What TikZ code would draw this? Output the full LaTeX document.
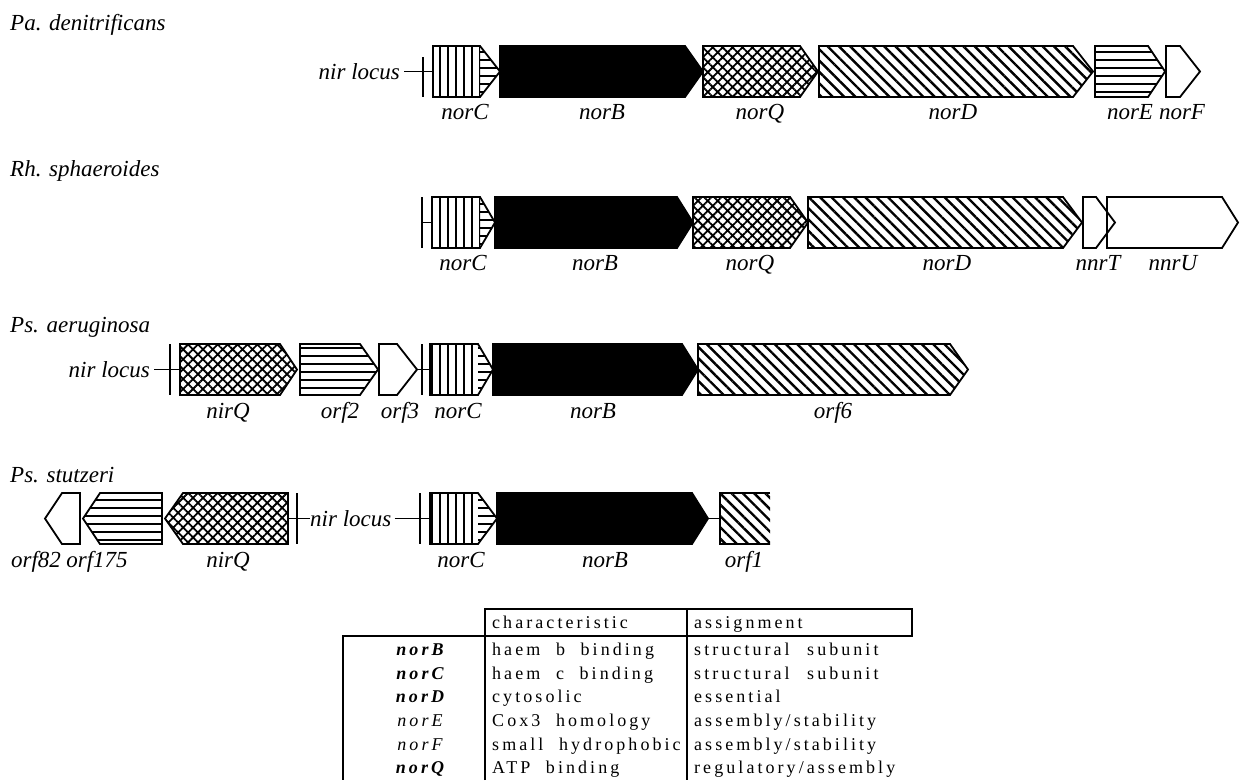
\documentclass[tikz,border=0pt]{standalone}
\usepackage{fontspec}
\newfontfamily\tabfont[LetterSpace=17]{Liberation Serif}
\newfontfamily\lblfont{Liberation Serif}
\usetikzlibrary{patterns.meta}

\tikzset{
  gene/.style={draw=black, line width=1.8pt, line join=miter},
  blk/.style={fill=black},
  xh/.style={pattern={Hatch[angle=45,distance=7pt,line width=1.8pt]}},
  dg/.style={pattern={Lines[angle=-45,distance=8pt,line width=2.4pt]}},
  hz/.style={pattern={Lines[angle=0,distance=8pt,line width=1.8pt]}},
  vt/.style={pattern={Lines[angle=90,distance=8pt,line width=1.8pt]}},
  wh/.style={fill=white},
  lbl/.style={font=\lblfont\fontsize{23}{25}\selectfont\itshape, inner sep=0pt, anchor=base},
  ttl/.style={lbl, anchor=base west},
  conn/.style={line width=1.6pt},
  bar/.style={line width=2pt},
  tab/.style={font=\tabfont\fontsize{18}{20}\selectfont, inner sep=0pt, anchor=base west},
  tabg/.style={font=\tabfont\fontsize{18}{20}\selectfont\itshape, inner sep=0pt, anchor=base},
  tline/.style={line width=1.8pt},
}

% right-pointing gene: name, x left, x body end, x tip, y top, fill style
\newcommand\generR[6]{%
  \draw[gene,#6] (#2,#5) -- (#3,#5) -- (#4,#5+25.5) -- (#3,#5+51) -- (#2,#5+51) -- cycle;
  \coordinate (#1-w) at (#2,#5+25.5);
  \coordinate (#1-e) at (#4,#5+25.5);}
% left-pointing gene: name, x tip, x body start, x right, y top, fill style
\newcommand\generL[6]{%
  \draw[gene,#6] (#2,#5+25.5) -- (#3,#5) -- (#4,#5) -- (#4,#5+51) -- (#3,#5+51) -- cycle;
  \coordinate (#1-w) at (#2,#5+25.5);
  \coordinate (#1-e) at (#4,#5+25.5);}
% norC: vertical stripes in body, horizontal stripes in tip
\newcommand\generC[5]{%
  \fill[vt] (#2,#5) rectangle (#3,#5+51);
  \fill[hz] (#3,#5) -- (#4,#5+25.5) -- (#3,#5+51) -- cycle;
  \draw[gene] (#2,#5) -- (#3,#5) -- (#4,#5+25.5) -- (#3,#5+51) -- (#2,#5+51) -- cycle;
  \coordinate (#1-w) at (#2,#5+25.5);
  \coordinate (#1-e) at (#4,#5+25.5);}
\newcommand\tsp{\hspace{0.45em}}

\begin{document}
\begin{tikzpicture}[x=1pt,y=-1pt]
\useasboundingbox (0,0) rectangle (1241,780);

% ---------- Row 1: Pa. denitrificans ----------
\node[ttl] (t1) at (10,30) {Pa. denitrificans};
\node[lbl, anchor=base east] (loc1) at (400,79.5) {nir locus};
\generC{c1}{433}{480}{500}{46}
\generR{b1}{500}{685}{703}{46}{blk}
\generR{q1}{703}{800}{818}{46}{xh}
\generR{d1}{819}{1073}{1093}{46}{dg}
\generR{e1}{1095}{1148}{1165}{46}{hz}
\generR{f1}{1166}{1180}{1200}{46}{wh}
\coordinate (k1t) at (423,57); \coordinate (k1b) at (423,97);
\draw[bar] (k1t) -- (k1b);
\draw[conn] (loc1.east |- c1-w) ++(4,0) -- (c1-w);
\node[lbl] (l1c) at (465,119) {norC};
\node[lbl] (l1b) at (602,119) {norB};
\node[lbl] (l1q) at (760,119) {norQ};
\node[lbl] (l1d) at (953,119) {norD};
\node[lbl] (l1e) at (1130,119) {norE};
\node[lbl] (l1f) at (1182,119) {norF};

% ---------- Row 2: Rh. sphaeroides ----------
\node[ttl] (t2) at (10,176) {Rh. sphaeroides};
\generC{c2}{432}{480}{495}{197}
\generR{b2}{495}{677}{693}{197}{blk}
\generR{q2}{693}{790}{808}{197}{xh}
\generR{d2}{808}{1063}{1082}{197}{dg}
\generR{u2}{1107}{1222}{1238}{197}{wh}
\generR{tt2}{1083}{1096}{1115}{197}{}
\coordinate (k2t) at (422,197); \coordinate (k2b) at (422,248);
\coordinate (k2) at (422,222.5);
\draw[bar] (k2t) -- (k2b);
\draw[conn] (k2) -- (c2-w);
\node[lbl] (l2c) at (463,270) {norC};
\node[lbl] (l2b) at (595,270) {norB};
\node[lbl] (l2q) at (750,270) {norQ};
\node[lbl] (l2d) at (947,270) {norD};
\node[lbl] (l2t) at (1098,270) {nnrT};
\node[lbl] (l2u) at (1173,270) {nnrU};

% ---------- Row 3: Ps. aeruginosa ----------
\node[ttl] (t3) at (10,332) {Ps. aeruginosa};
\node[lbl, anchor=base east] (loc3) at (150,377.5) {nir locus};
\generR{n3}{180}{280}{297}{344}{xh}
\generR{o2}{300}{360}{378}{344}{hz}
\generR{o3}{379}{397}{417}{344}{wh}
\generC{c3}{430}{478}{493}{344}
\generR{b3}{493}{682}{698}{344}{blk}
\generR{o6}{698}{950}{968}{344}{dg}
\coordinate (k3at) at (170,344); \coordinate (k3ab) at (170,395);
\coordinate (k3bt) at (422,344); \coordinate (k3bb) at (422,395);
\draw[bar] (k3at) -- (k3ab);
\draw[bar] (k3bt) -- (k3bb);
\draw[conn] (loc3.east |- n3-w) ++(4,0) -- (n3-w);
\draw[conn] (o3-e) -- (c3-w);
\node[lbl] (l3n) at (228,418) {nirQ};
\node[lbl] (l3o2) at (340,418) {orf2};
\node[lbl] (l3o3) at (400,418) {orf3};
\node[lbl] (l3c) at (458,418) {norC};
\node[lbl] (l3b) at (593,418) {norB};
\node[lbl] (l3o6) at (833,418) {orf6};

% ---------- Row 4: Ps. stutzeri ----------
\node[ttl] (t4) at (10,482) {Ps. stutzeri};
\generL{o82}{45}{62}{80}{493}{wh}
\generL{o175}{83}{100}{162}{493}{hz}
\generL{n4}{165}{183}{288}{493}{xh}
\node[lbl, anchor=base west] (loc4) at (310,526.5) {nir locus};
\generC{c4}{430}{478}{497}{493}
\generR{b4}{497}{692}{708}{493}{blk}
\fill[dg] (720,493) rectangle (770,544);
\draw[gene] (770,493) -- (720,493) -- (720,544) -- (770,544);
\coordinate (o1-w) at (720,518.5);
\coordinate (k4at) at (297,493); \coordinate (k4ab) at (297,544);
\coordinate (k4bt) at (420,493); \coordinate (k4bb) at (420,544);
\draw[bar] (k4at) -- (k4ab);
\draw[bar] (k4bt) -- (k4bb);
\draw[conn] (n4-e) -- (loc4.west |- n4-e);
\draw[conn] (loc4.east |- c4-w) ++(3,0) -- (c4-w);
\draw[conn] (b4-e) -- (o1-w);
\node[lbl] (l4o82) at (36,567) {orf82};
\node[lbl] (l4o175) at (97,567) {orf175};
\node[lbl] (l4n) at (228,567) {nirQ};
\node[lbl] (l4c) at (461,567) {norC};
\node[lbl] (l4b) at (605,567) {norB};
\node[lbl] (l4o1) at (744,567) {orf1};

% ---------- Table ----------
\draw[tline] (485,780) -- (485,609) -- (912,609) -- (912,636) -- (343,636) -- (343,780);
\draw[tline] (687,609) -- (687,780);
\node[tab] (h1) at (492,628) {characteristic};
\node[tab] (h2) at (694,628) {assignment};

\node[tabg] (gB) at (420,655) {\bfseries norB};
\node[tab] (cB) at (492,655) {haem\tsp{} b\tsp{} binding};
\node[tab] (aB) at (694,655) {structural\hspace{0.55em} subunit};

\node[tabg] (gC) at (420,679) {\bfseries norC};
\node[tab] (cC) at (492,679) {haem\tsp{} c\tsp{} binding};
\node[tab] (aC) at (694,679) {structural\hspace{0.55em} subunit};

\node[tabg] (gD) at (420,702) {\bfseries norD};
\node[tab] (cD) at (492,702) {cytosolic};
\node[tab] (aD) at (694,702) {essential};

\node[tabg] (gE) at (420,726) {norE};
\node[tab] (cE) at (492,726) {Cox3\tsp{} homology};
\node[tab] (aE) at (694,726) {assembly/stability};

\node[tabg] (gF) at (420,750) {norF};
\node[tab] (cF) at (492,750) {small\tsp{} hydrophobic};
\node[tab] (aF) at (694,750) {assembly/stability};

\node[tabg] (gQ) at (420,773) {\bfseries norQ};
\node[tab] (cQ) at (492,773) {ATP\tsp{} binding};
\node[tab] (aQ) at (694,773) {regulatory/assembly};
\end{tikzpicture}
\end{document}
